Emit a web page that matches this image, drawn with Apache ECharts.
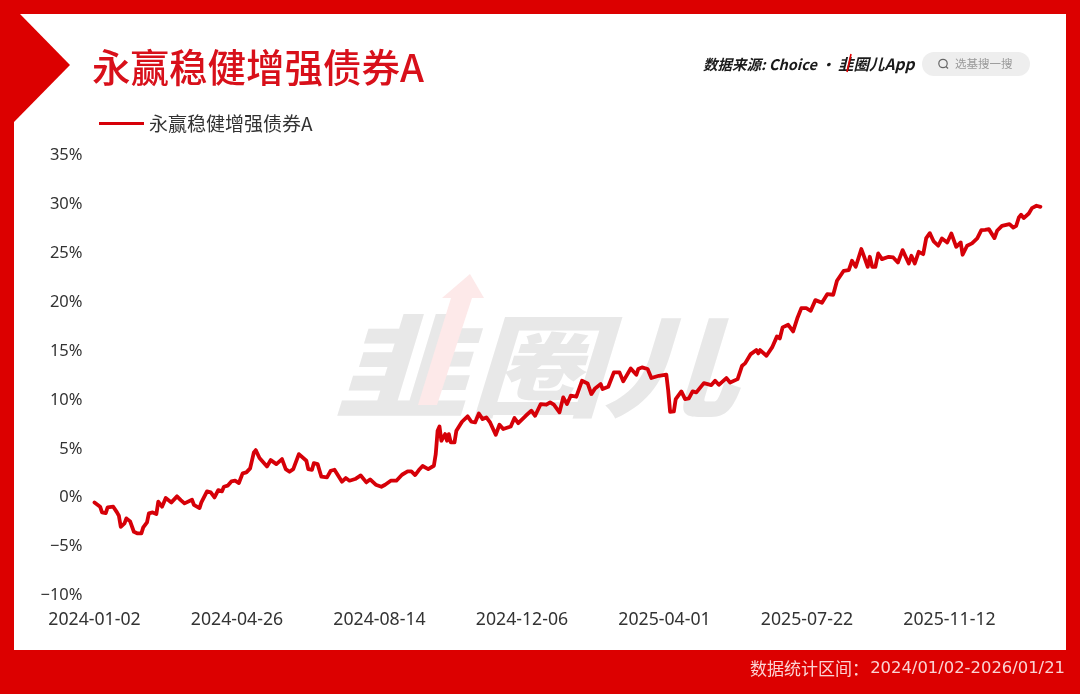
<!DOCTYPE html>
<html><head><meta charset="utf-8">
<style>html,body{margin:0;padding:0;background:#fff}#c{width:1080px;height:694px}</style>
<script src="https://cdn.jsdelivr.net/npm/echarts@6/dist/echarts.min.js"></script>
</head><body><div id="c"></div>
<script>
const fundName = '永赢稳健增强债券A';
const tickLabels = ['2024-01-02','2024-04-26','2024-08-14','2024-12-06','2025-04-01','2025-07-22','2025-11-12'];
const tickStep = 76;
const lastDay = 504.5;
const tradingDay = [0,3,4,6,7,10,12,13,14,16,17,19,21,23,25,26,28,29,31,33,34,36,37,38,41,44,46,48,49,52,53,56,57,60,62,64,66,68,69,71,73,75,77,79,81,83,85,86,88,89,92,94,97,100,102,104,106,109,110,113,114,116,117,119,121,124,126,128,130,132,134,136,139,142,145,147,150,153,155,158,161,164,167,169,171,173,175,178,181,182,183,184,185,187,188,189,190,192,193,196,199,201,203,205,207,209,211,214,216,217,218,222,224,226,230,233,235,238,241,243,245,248,250,252,254,257,260,263,265,267,270,271,274,277,280,282,286,289,290,292,295,297,301,305,306,307,309,310,313,315,317,319,321,325,329,331,333,337,339,343,345.4,347,350,353,354,355,358.4,361.4,364,365.5,367,370,372.6,375,377,379.6,382,384.5,388,390.8,394,396,397,399.6,402.3,404,406,409,410,411,412.4,413.5,414.8,416.5,418,420,423.6,426,428.5,431,434.3,435.7,437.5,439.6,442,443.6,445.5,447.6,450,452,454.8,457,459.6,462,463,465.4,468,470.8,473,475,477,478,480,481.4,484,488,490,491.6,493,494.2,495.6,498.3,500,502.4,504.5];
const fundReturn = [-0.48,-0.92,-1.50,-1.57,-0.99,-0.92,-1.50,-1.84,-2.97,-2.62,-2.11,-2.42,-3.48,-3.65,-3.65,-3.03,-2.52,-1.60,-1.50,-1.67,-0.41,-0.92,-0.48,-0.03,-0.48,0.14,-0.24,-0.58,-0.51,-0.20,-0.72,-1.06,-0.48,0.65,0.55,0.03,0.78,0.65,1.12,1.23,1.67,1.74,1.50,2.49,2.59,3.00,4.64,4.87,4.06,4.12,3.20,3.85,3.44,3.95,2.93,2.66,2.93,4.46,4.57,3.78,2.93,2.86,3.54,3.44,2.15,2.08,2.76,2.86,2.25,1.64,2.01,1.74,1.91,2.28,1.57,1.87,1.33,1.12,1.33,1.74,1.74,2.35,2.69,2.69,2.32,2.83,3.24,2.93,3.27,4.46,6.85,7.29,5.83,6.51,5.83,6.51,5.66,5.66,6.85,7.77,8.32,7.77,7.70,8.62,8.04,8.21,7.70,6.44,7.46,7.53,7.02,7.29,8.15,7.63,8.38,8.90,8.38,9.58,9.51,9.75,9.51,8.73,10.26,9.58,10.43,10.33,11.96,11.69,10.60,11.18,11.62,11.11,11.35,12.82,12.82,11.90,13.22,12.58,13.16,13.33,13.16,12.24,12.47,12.58,10.94,8.79,8.83,10.09,10.87,10.09,10.16,10.87,10.77,11.72,11.52,11.96,11.55,12.24,11.79,12.13,13.50,13.74,14.69,15.10,14.76,15.10,14.52,15.37,16.50,16.29,17.42,17.69,17.01,18.44,19.39,19.39,19.12,20.21,19.94,20.82,20.76,22.19,22.12,23.21,23.28,24.23,23.62,25.43,24.91,24.98,23.62,24.64,23.62,23.62,24.98,24.40,24.64,24.57,24.06,25.32,23.96,24.74,23.96,25.15,24.91,26.55,27.06,26.21,25.77,26.52,26.11,27.03,25.66,26.11,24.85,25.77,26.01,26.52,27.37,27.40,27.47,27.30,26.55,27.30,27.81,27.98,27.64,27.81,28.66,28.94,28.60,29.07,29.62,29.86,29.75];

const RED = '#dc0000';
const LINE = '#d60008';
const CJK = '"Noto Sans CJK SC"';
const chart = echarts.init(document.getElementById('c'), null, {renderer:'canvas'});
chart.setOption({
  animation:false,
  backgroundColor:RED,
  grid:{left:94.5,right:1080-1040.4,top:155.5,bottom:694-595.5,containLabel:false},
  legend:{show:true,left:94,top:109,itemWidth:45,itemHeight:3,itemGap:6,
    icon:'rect',
    data:[{name:fundName}],
    textStyle:{color:'#333',fontSize:19,fontFamily:CJK}},
  xAxis:{type:'value',min:0,max:lastDay,interval:tickStep,
    axisLine:{show:false,onZero:false},axisTick:{show:false},splitLine:{show:false},
    axisLabel:{margin:15,color:'#333',fontSize:17.7,fontFamily:'"Noto Sans",sans-serif',showMaxLabel:false,hideOverlap:false,
      formatter:v=>tickLabels[v/tickStep]||''}},
  yAxis:{type:'value',min:-10,max:35,interval:5,
    axisLine:{show:false},axisTick:{show:false},splitLine:{show:false},
    axisLabel:{margin:12,color:'#333',fontSize:16.5,fontFamily:'"Noto Sans",sans-serif',
      formatter:v=>String(v).replace('-','\u2212')+'%'}},
  series:[{name:fundName,type:'line',showSymbol:false,symbol:'none',
    data:tradingDay.map((d,i)=>[d,fundReturn[i]]),
    lineStyle:{color:LINE,width:3.8,join:'round',cap:'round'},
    itemStyle:{color:LINE},z:5}],
  graphic:[
    {type:'rect',z:-20,silent:true,shape:{x:14,y:14,width:1052,height:636},style:{fill:'#fff'}},
    {type:'polygon',z:-10,silent:true,shape:{points:[[14,14],[20,14],[70,65],[14,122]]},style:{fill:RED}},
    {type:'text',z:-10,silent:true,style:{text:'韭圈儿',x:0,y:0,font:'italic 900 120px "Noto Sans CJK SC"',fill:'#e8e8e8',verticalAlign:'middle',align:'left'},x:334,y:366,scaleX:1.12,scaleY:0.92},
    {type:'polygon',z:-9,silent:true,shape:{points:[[470,274],[484,298],[472,298],[437,405],[418,405],[451,298],[442,298]]},style:{fill:'#fde9e9'}},
    {type:'text',z:1,silent:true,style:{text:fundName,x:92,y:67,font:'500 38.5px "Noto Sans CJK SC"',fill:'#d8101a',verticalAlign:'middle',align:'left'}},
    {type:'text',z:1,silent:true,style:{text:'数据来源: Choice ·',x:703,y:64,font:'italic 700 14.5px "Noto Sans CJK SC"',fill:'#1a1a1a',verticalAlign:'middle',align:'left'}},
    {type:'text',z:1,silent:true,style:{text:'韭圈儿App',x:838,y:64,font:'italic 700 15.5px "Noto Sans CJK SC"',fill:'#1a1a1a',verticalAlign:'middle',align:'left'}},
    {type:'line',z:2,silent:true,shape:{x1:851,y1:54,x2:847,y2:72},style:{stroke:'#e00000',lineWidth:1.6}},
    {type:'rect',z:1,silent:true,shape:{x:922,y:52,width:108,height:24,r:12},style:{fill:'#eeeeee'}},
    {type:'circle',z:2,silent:true,shape:{cx:943,cy:63.5,r:4.2},style:{fill:'none',stroke:'#666',lineWidth:1.2}},
    {type:'line',z:2,silent:true,shape:{x1:946,y1:66.5,x2:948,y2:68.5},style:{stroke:'#666',lineWidth:1.2}},
    {type:'text',z:2,silent:true,style:{text:'选基搜一搜',x:955,y:64,font:'11.5px "Noto Sans CJK SC"',fill:'#9a9a9a',verticalAlign:'middle',align:'left'}},
    {type:'text',z:1,silent:true,style:{text:'数据统计区间：',x:750,y:669,verticalAlign:'middle',align:'left',font:'17px "Noto Sans CJK SC"',fill:'#fbd3d3'}},
    {type:'text',z:1,silent:true,style:{text:'2024/01/02-2026/01/21',x:1065,y:669,verticalAlign:'middle',align:'right',font:'16.4px "DejaVu Sans"',fill:'#fbd3d3'}}
  ]
});
</script></body></html>
